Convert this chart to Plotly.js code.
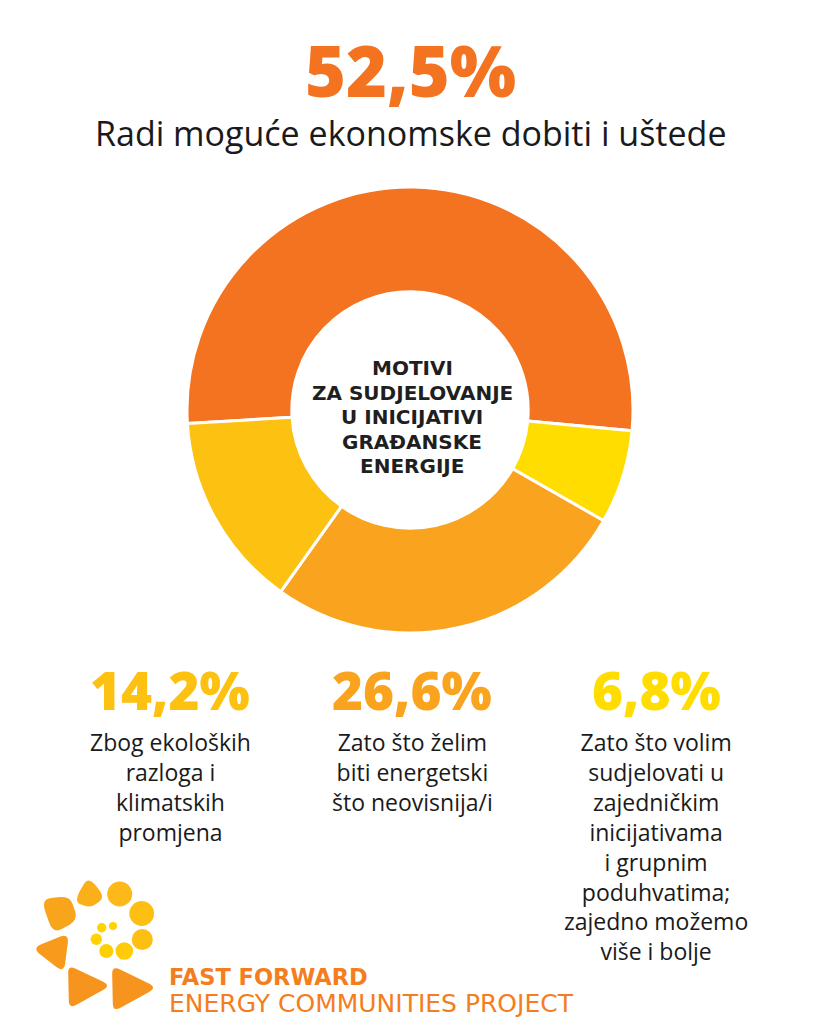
<!DOCTYPE html>
<html><head><meta charset="utf-8">
<script src="https://cdn.plot.ly/plotly-3.0.1.min.js"></script>
<style>html,body{margin:0;padding:0;background:#fff;} #chart{width:819px;height:1024px;}</style>
</head><body><div id="chart"></div>
<script>
// ---- data ----
const categories = [
  'Radi moguće ekonomske dobiti i uštede',
  'Zato što volim sudjelovati u zajedničkim inicijativama i grupnim poduhvatima; zajedno možemo više i bolje',
  'Zato što želim biti energetski što neovisnija/i',
  'Zbog ekoloških razloga i klimatskih promjena'
];
const values = [52.5, 6.8, 26.6, 14.2];
const valueLabels = ['52,5%', '6,8%', '26,6%', '14,2%'];
const colors = ['#F37321', '#FFDD00', '#F9A31E', '#FDC112'];
const centerLines = ['MOTIVI', 'ZA SUDJELOVANJE', 'U INICIJATIVI', 'GRAĐANSKE', 'ENERGIJE'];
const headLine = 'Radi moguće ekonomske dobiti i uštede';
const block1 = ['Zbog ekoloških', 'razloga i', 'klimatskih', 'promjena'];
const block2 = ['Zato što želim', 'biti energetski', 'što neovisnija/i'];
const block3 = ['Zato što volim', 'sudjelovati u', 'zajedničkim', 'inicijativama', 'i grupnim', 'poduhvatima;', 'zajedno možemo', 'više i bolje'];
const logoTitle = 'FAST FORWARD';
const logoSub = 'ENERGY COMMUNITIES PROJECT';

// ---- layout helpers ----
const W = 819, H = 1024;
const X = px => px / W;
const Y = py => 1 - py / H;

const ann = [];
function txt(text, px, py, size, color, opts) {
  opts = opts || {};
  ann.push({
    text: text, x: X(px), y: Y(py), xref: 'paper', yref: 'paper',
    xanchor: opts.xanchor || 'center', yanchor: opts.yanchor || 'middle', showarrow: false,
    align: 'center',
    font: { family: opts.family || 'Open Sans', size: size, color: color, weight: opts.weight || 400 }
  });
}

// headline
txt(valueLabels[0], 410, 70, 70, colors[0], { weight: 800 });
txt(headLine, 410, 133, 34, '#1a1a1a');

// center text
const cy0 = 368, cstep = 24.6;
centerLines.forEach((l, i) => txt('<b>' + l + '</b>', 412, cy0 + i * cstep, 20, '#1f1f1f', { family: 'DejaVu Sans' }));

// bottom blocks
const blocks = [
  { lines: block1, label: valueLabels[3], color: colors[3], x: 170 },
  { lines: block2, label: valueLabels[2], color: colors[2], x: 412 },
  { lines: block3, label: valueLabels[1], color: colors[1], x: 656 }
];
blocks.forEach(b => {
  txt(b.label, b.x, 689, 53, b.color, { weight: 800 });
  txt(b.lines.join('<br>'), b.x, 724, 23, '#1a1a1a', { yanchor: 'top' });
});

// logo text
txt('<b>' + logoTitle + '</b>', 167, 977, 22.5, '#F47D20', { xanchor: 'left', family: 'DejaVu Sans' });
txt(logoSub, 167, 1003, 25, '#F47D20', { xanchor: 'left', family: 'DejaVu Sans' });

// ---- logo shapes ----
const shapes = [];
function circ(cx, cy, r, color) {
  shapes.push({ type: 'circle', xref: 'paper', yref: 'paper',
    x0: X(cx - r), x1: X(cx + r), y0: Y(cy + r), y1: Y(cy - r),
    fillcolor: color, line: { width: 0 } });
}
function rpoly(pts, t, color) {
  const n = pts.length;
  const p = (a) => X(a[0]).toFixed(5) + ',' + Y(a[1]).toFixed(5);
  let d = '';
  for (let i = 0; i < n; i++) {
    const v = pts[i], pv = pts[(i - 1 + n) % n], nx = pts[(i + 1) % n];
    const a = [v[0] + (pv[0] - v[0]) * t, v[1] + (pv[1] - v[1]) * t];
    const b = [v[0] + (nx[0] - v[0]) * t, v[1] + (nx[1] - v[1]) * t];
    d += (i === 0 ? 'M' : 'L') + p(a) + ' Q' + p(v) + ' ' + p(b) + ' ';
  }
  d += 'Z';
  shapes.push({ type: 'path', xref: 'paper', yref: 'paper', path: d, fillcolor: color, line: { width: 0 } });
}
rpoly([[74, 902], [88, 876], [105, 897], [91, 908]], 0.38, '#FBB01A');
circ(119.7, 894, 12.5, '#FDB81A');
circ(141.7, 913.5, 12.4, '#FDC012');
circ(142.3, 939.5, 10.5, '#FDC012');
circ(124.3, 951, 8.8, '#FFCB0A');
circ(106.3, 951, 7, '#FFD000');
circ(96.3, 939.3, 5.7, '#FFD200');
circ(101.7, 927.7, 4.7, '#FFD200');
circ(113, 926, 4, '#FFD200');
rpoly([[41, 899], [70, 896], [78, 920], [53, 934]], 0.35, '#F9A51B');
rpoly([[32, 948], [69, 933], [64, 973]], 0.25, '#F89B1C');
rpoly([[68, 965], [111, 985.5], [69, 1009]], 0.18, '#F7941D');
rpoly([[112, 965.5], [157, 987.5], [113, 1012]], 0.18, '#F7941D');

// ---- donut ----
const trace = {
  type: 'pie', labels: categories, values: values, sort: false,
  direction: 'clockwise', rotation: -93.5, hole: 0.53,
  marker: { colors: colors, line: { color: '#ffffff', width: 3 } },
  textinfo: 'none', hoverinfo: 'none', showlegend: false,
  domain: { x: [X(187), X(633)], y: [Y(633), Y(187)] }
};

const layout = {
  width: W, height: H, margin: { l: 0, r: 0, t: 0, b: 0 },
  paper_bgcolor: '#ffffff', plot_bgcolor: '#ffffff',
  showlegend: false, annotations: ann, shapes: shapes
};

Plotly.newPlot('chart', [trace], layout, { displayModeBar: false, staticPlot: true });
</script>
</body></html>
